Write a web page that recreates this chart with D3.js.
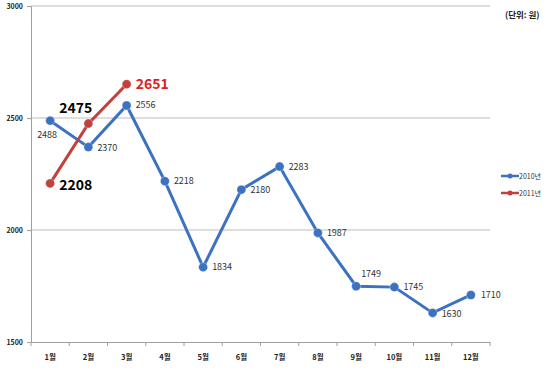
<!DOCTYPE html>
<html>
<head>
<meta charset="utf-8">
<script src="https://cdn.jsdelivr.net/npm/d3@7"></script>
<style>
body { margin: 0; background: #fff; }
text { font-family: "Noto Sans CJK KR", "Noto Sans", sans-serif; }
</style>
</head>
<body>
<script>
months = ["1월", "2월", "3월", "4월", "5월", "6월", "7월", "8월", "9월", "10월", "11월", "12월"]
values2010 = [2488, 2370, 2556, 2218, 1834, 2180, 2283, 1987, 1749, 1745, 1630, 1710]
values2011 = [2208, 2475, 2651]
yTicks = [1500, 2000, 2500, 3000]
seriesNames = ["2010년", "2011년"]

// label placement per point: dx, dy, anchor
labelPos2010 = [
        [-13, 17, "start"], [9, 4, "start"], [9, 3, "start"], [9, 3, "start"],
        [9, 3, "start"], [9, 3, "start"], [9, 3, "start"], [9, 3, "start"],
        [5, -9, "start"], [9, 3, "start"], [9, 4, "start"], [10, 3, "start"]
]
labelPos2011 = [[9, 7, "start"], [4, -11, "end"], [9, 5, "start"]]

blue = "#3c72c0"
red = "#c0413e"

w = 550
h = 370
plotLeft = 31
plotRight = 490
plotTop = 6
plotBottom = 342

svg = d3.select("body").append("svg")
        .attr("width", w)
        .attr("height", h)

x = d3.scaleBand().domain(months).range([plotLeft, plotRight])
y = d3.scaleLinear().domain([1500, 3000]).range([plotBottom, plotTop])

// gridlines
svg.append("g").selectAll("line").data(yTicks.slice(1)).enter().append("line")
        .attr("x1", plotLeft).attr("x2", plotRight)
        .attr("y1", function(d) { return y(d) }).attr("y2", function(d) { return y(d) })
        .attr("stroke", "#bdbdbd").attr("stroke-width", 1)

yAxis = svg.append("g").attr("transform", "translate(" + plotLeft + ",0)")
        .call(d3.axisLeft(y).tickValues(yTicks).tickFormat(d3.format("d")).tickSize(4).tickPadding(4))
yAxis.select(".domain").attr("stroke", "#a0a0a0")
yAxis.selectAll("line").attr("stroke", "#a0a0a0")
yAxis.selectAll("text").attr("font-size", "7px").attr("font-weight", "bold").attr("fill", "#222")

xAxis = svg.append("g").attr("transform", "translate(0," + plotBottom + ")")
        .call(d3.axisBottom(x).tickSize(0).tickPadding(13))
xAxis.select(".domain").attr("stroke", "#a0a0a0")
xAxis.selectAll("text").attr("font-size", "7.5px").attr("font-weight", "bold").attr("fill", "#222")
// tick marks at band boundaries
svg.append("g").selectAll("line").data(d3.range(months.length + 1)).enter().append("line")
        .attr("x1", function(i) { return plotLeft + i * x.step() })
        .attr("x2", function(i) { return plotLeft + i * x.step() })
        .attr("y1", plotBottom).attr("y2", plotBottom + 4)
        .attr("stroke", "#a0a0a0")

cx = function(i) { return x(months[i]) + x.bandwidth() / 2 }

function drawSeries(vals, color, labelPos, labelStyle) {
        var line = d3.line()
                .x(function(d, i) { return cx(i) })
                .y(function(d) { return y(d) })
        svg.append("path").datum(vals)
                .attr("fill", "none")
                .attr("stroke", color)
                .attr("stroke-width", 3)
                .attr("d", line)
        svg.append("g").selectAll("circle").data(vals).enter().append("circle")
                .attr("cx", function(d, i) { return cx(i) })
                .attr("cy", function(d) { return y(d) })
                .attr("r", 4.5)
                .attr("fill", color)
                .attr("stroke", "#ffffff")
                .attr("stroke-opacity", 0.4)
                .attr("stroke-width", 0.8)
        svg.append("g").selectAll("text").data(vals).enter().append("text")
                .attr("x", function(d, i) { return cx(i) + labelPos[i][0] })
                .attr("y", function(d, i) { return y(d) + labelPos[i][1] })
                .attr("text-anchor", function(d, i) { return labelPos[i][2] })
                .attr("font-size", function(d, i) { return labelStyle(i).size })
                .attr("font-weight", function(d, i) { return labelStyle(i).weight })
                .attr("fill", function(d, i) { return labelStyle(i).fill })
                .text(function(d) { return d })
}

drawSeries(values2010, blue, labelPos2010, function(i) {
        return { size: "9px", weight: "normal", fill: "#333" }
})
drawSeries(values2011, red, labelPos2011, function(i) {
        return { size: "14px", weight: "bold", fill: i == 2 ? "#e02020" : "#000" }
})

// legend
legend = svg.append("g")
seriesNames.forEach(function(name, i) {
        var ly = 176 + i * 17
        var c = i == 0 ? blue : red
        legend.append("line").attr("x1", 501).attr("x2", 519)
                .attr("y1", ly).attr("y2", ly)
                .attr("stroke", c).attr("stroke-width", 2.5)
        legend.append("circle").attr("cx", 510).attr("cy", ly).attr("r", 2.5).attr("fill", c)
        legend.append("text").attr("x", 519).attr("y", ly + 3)
                .attr("font-size", "7px").attr("fill", "#333")
                .text(name)
})

svg.append("text").attr("x", 505).attr("y", 18)
        .attr("font-size", "8.5px").attr("font-weight", "bold").attr("fill", "#222")
        .text("(단위: 원)")
</script>
</body>
</html>
